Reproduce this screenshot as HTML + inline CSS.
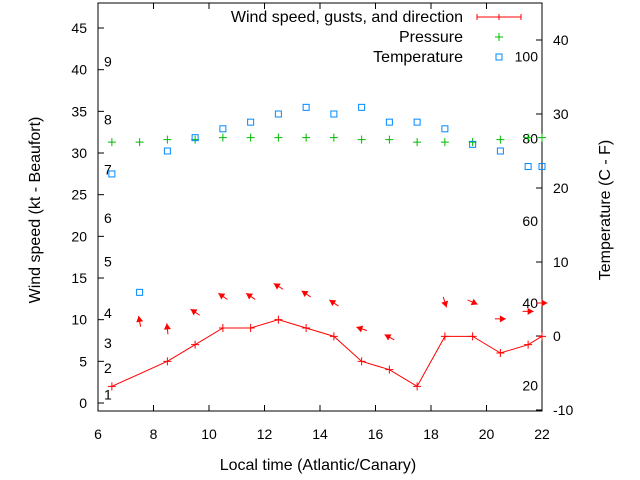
<!DOCTYPE html>
<html><head><meta charset="utf-8"><style>
body{margin:0;background:#fff}
svg{display:block;font-family:"Liberation Sans",sans-serif;font-size:14px}
.big{font-size:16px}
</style></head><body>
<svg id="c" width="640" height="480">
<rect x="98" y="3" width="444" height="408" fill="none" stroke="#000"/>
<g id="axes"></g><g id="marks"></g>
<text class="big" x="318" y="470" text-anchor="middle">Local time (Atlantic/Canary)</text>
<text class="big" transform="translate(40,210) rotate(-90)" text-anchor="middle">Wind speed (kt - Beaufort)</text>
<text class="big" transform="translate(610,210) rotate(-90)" text-anchor="middle">Temperature (C - F)</text>
<g>
<text class="big" x="463" y="22" text-anchor="end">Wind speed, gusts, and direction</text>
<path d="M477 17H521M477 14V20M521 14V20M499 14V20" stroke="#f00"/>
<text class="big" x="463" y="42" text-anchor="end">Pressure</text>
<path d="M495 37H503M499 33V41" stroke="#0b0"/>
<text class="big" x="463" y="62" text-anchor="end">Temperature</text>
<rect x="496" y="54" width="6" height="6" fill="none" stroke="#08f"/>
</g>
</svg>
<script>
const windHours=[6.5,8.5,9.5,10.5,11.5,12.5,13.5,14.5,15.5,16.5,17.5,18.5,19.5,20.5,21.5,22];
const windSpeed=[2,5,7,9,9,10,9,8,5,4,2,8,8,6,7,8];
const gustHours=[7.5,8.5,9.5,10.5,11.5,12.5,13.5,14.5,15.5,16.5,18.5,19.5,20.5,21.5,22];
const gustSpeed=[9.8,8.9,10.9,12.8,12.8,14,13.1,12,8.9,7.9,12.1,12.1,10.1,11,12];
const gustDir=[350,354,304,304,304,302,304,304,288,299,163,114,90,90,90];
const pHours=[6.5,7.5,8.5,9.5,10.5,11.5,12.5,13.5,14.5,15.5,16.5,17.5,18.5,19.5,20.5,21.5,22];
const pressure=[31.3,31.3,31.6,31.6,31.85,31.85,31.85,31.85,31.85,31.6,31.6,31.3,31.3,31.3,31.6,31.85,31.85];
const tHours=[6.5,7.5,8.5,9.5,10.5,11.5,12.5,13.5,14.5,15.5,16.5,17.5,18.5,19.5,20.5,21.5,22];
const temps=[21.9,5.9,25,26.8,28,28.9,30,30.9,30,30.9,28.9,28.9,28,25.9,25,22.9,22.9];
const xTicks=[6,8,10,12,14,16,18,20,22];
const yTicks=[0,5,10,15,20,25,30,35,40,45];
const y2Ticks=[-10,0,10,20,30,40];
const beaufortLabels=["1","2","3","4","5","6","7","8","9"];
const beaufortKt=[1.0,4.2,7.2,10.8,17.0,22.2,28.0,34.0,41.0];
const fLabels=[20,40,60,80,100];
const X=h=>98+(h-6)*27.75, Y=v=>403-v*8.333, Y2=t=>336-t*7.4;
const NS="http://www.w3.org/2000/svg";
const ax=document.getElementById('axes'), mk=document.getElementById('marks');
function el(tag,attrs,parent,txt){const e=document.createElementNS(NS,tag);for(const k in attrs)e.setAttribute(k,attrs[k]);if(txt!==undefined)e.textContent=txt;parent.appendChild(e);return e;}
xTicks.forEach(h=>{
 const t=el('path',{d:`M${X(h)} 411v-6M${X(h)} 3v6`,stroke:'#000'},ax);
 
 
 const l=el('text',{x:X(h),y:439,'text-anchor':'middle'},ax,h);
 
 
});
yTicks.forEach(v=>{
 const t=el('path',{d:`M98 ${Y(v)}h6`,stroke:'#000'},ax);
 
 
 const l=el('text',{x:87,y:Y(v)+5,'text-anchor':'end'},ax,v);
 
 
});
y2Ticks.forEach(v=>{
 const t=el('path',{d:`M542 ${Y2(v)}h-6`,stroke:'#000'},ax);
 
 
 const l=el('text',{x:553,y:Y2(v)+5},ax,v);
 
 
});
beaufortLabels.forEach((s,i)=>{
 const l=el('text',{x:104,y:Y(beaufortKt[i])+5},ax,s);
 
 
});
fLabels.forEach(f=>{
 const l=el('text',{x:538,y:Y2((f-32)*5/9)+5,'text-anchor':'end'},ax,f);
 
 
});
const line=el('polyline',{points:windHours.map((h,i)=>X(h)+','+Y(windSpeed[i])).join(' '),fill:'none',stroke:'#f00'},mk);


windHours.forEach((h,i)=>{
 const p=el('path',{d:`M${X(h)-4} ${Y(windSpeed[i])}h8M${X(h)} ${Y(windSpeed[i])-4}v8`,stroke:'#f00'},mk);
 
 
});
pHours.forEach((h,i)=>{
 const p=el('path',{d:`M${X(h)-4} ${Y(pressure[i])}h8M${X(h)} ${Y(pressure[i])-4}v8`,stroke:'#0b0'},mk);
 
 
});
tHours.forEach((h,i)=>{
 const p=el('rect',{x:X(h)-3,y:Y2(temps[i])-3,width:6,height:6,fill:'none',stroke:'#08f'},mk);
 
 
});
gustHours.forEach((h,i)=>{
 const a=gustDir[i]*Math.PI/180, dx=Math.sin(a), dy=-Math.cos(a);
 const cx=X(h), cy=Y(gustSpeed[i]), L=5.5;
 const tx=cx-dx*L, ty=cy-dy*L, hx=cx+dx*L, hy=cy+dy*L;
 const px=-dy, py=dx;
 const bx=hx-dx*6, by=hy-dy*6;
 const g=el('g',{},mk);
 
 
 el('line',{x1:tx,y1:ty,x2:hx,y2:hy,stroke:'#f00'},g);
 el('polygon',{points:`${hx},${hy} ${bx+px*3.5},${by+py*3.5} ${bx-px*3.5},${by-py*3.5}`,fill:'#f00'},g);
});
</script>
</body></html>
